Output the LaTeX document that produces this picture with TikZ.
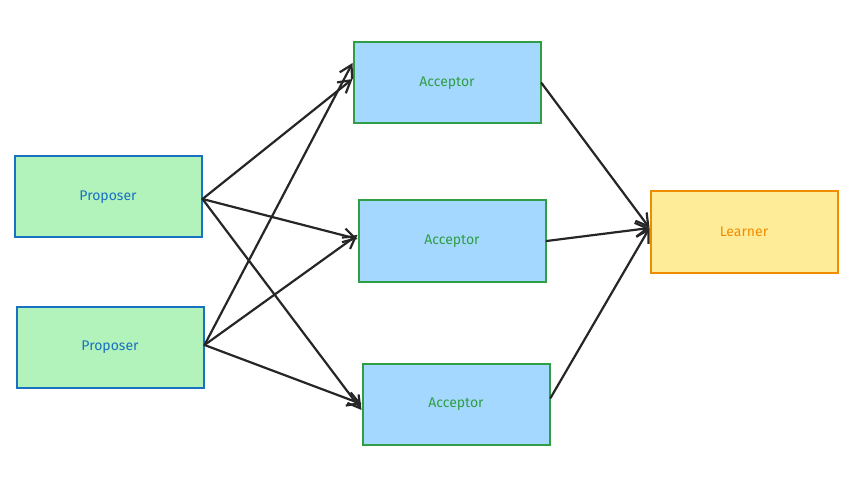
\documentclass[tikz,border=0pt]{standalone}
\usepackage{fontspec}
\setmainfont{Fira Sans}
\usetikzlibrary{arrows.meta}
\definecolor{pfill}{HTML}{B2F2BB}\definecolor{pdraw}{HTML}{1971C2}
\definecolor{afill}{HTML}{A5D8FF}\definecolor{adraw}{HTML}{2F9E44}
\definecolor{lfill}{HTML}{FFEC99}\definecolor{ldraw}{HTML}{F08C00}
\begin{document}
\begin{tikzpicture}[x=1pt,y=-1pt,
 box/.style={minimum width=187pt,minimum height=81pt,line width=2pt,font=\fontsize{14}{16}\selectfont,inner sep=0pt},
 prop/.style={box,fill=pfill,draw=pdraw,text=pdraw},
 acc/.style={box,fill=afill,draw=adraw,text=adraw},
 lrn/.style={box,fill=lfill,draw=ldraw,text=ldraw},
 arr/.style={line width=2.2pt,draw=black!85,line cap=round,-{Straight Barb[length=12pt,width=14pt,line width=2.2pt]}}]
\useasboundingbox (0,0) rectangle (856,478);
\node[prop] (p1) at (108,197) {Proposer};
\node[prop] (p2) at (110,347) {Proposer};
\node[acc] (a1) at (447,83) {Acceptor};
\node[acc] (a2) at (452,241) {Acceptor};
\node[acc] (a3) at (456,404) {Acceptor};
\node[lrn] (l) at (744,232) {Learner};
\draw[arr] ([yshift=-2pt]p1.east) -- ([yshift=4pt]a1.west);
\draw[arr] ([yshift=-2pt]p1.east) -- ([yshift=2pt]a2.west);
\draw[arr] ([yshift=-2pt]p1.east) -- ([yshift=-6pt]a3.west);
\draw[arr] ([yshift=2pt]p2.east) -- ([yshift=20pt]a1.west);
\draw[arr] ([yshift=2pt]p2.east) -- ([yshift=6pt]a2.west);
\draw[arr] ([yshift=2pt]p2.east) -- (a3.west);
\draw[arr] (a1.east) -- ([yshift=4pt]l.west);
\draw[arr] (a2.east) -- ([yshift=4pt]l.west);
\draw[arr] ([yshift=6pt]a3.east) -- ([yshift=4pt]l.west);
\end{tikzpicture}
\end{document}
